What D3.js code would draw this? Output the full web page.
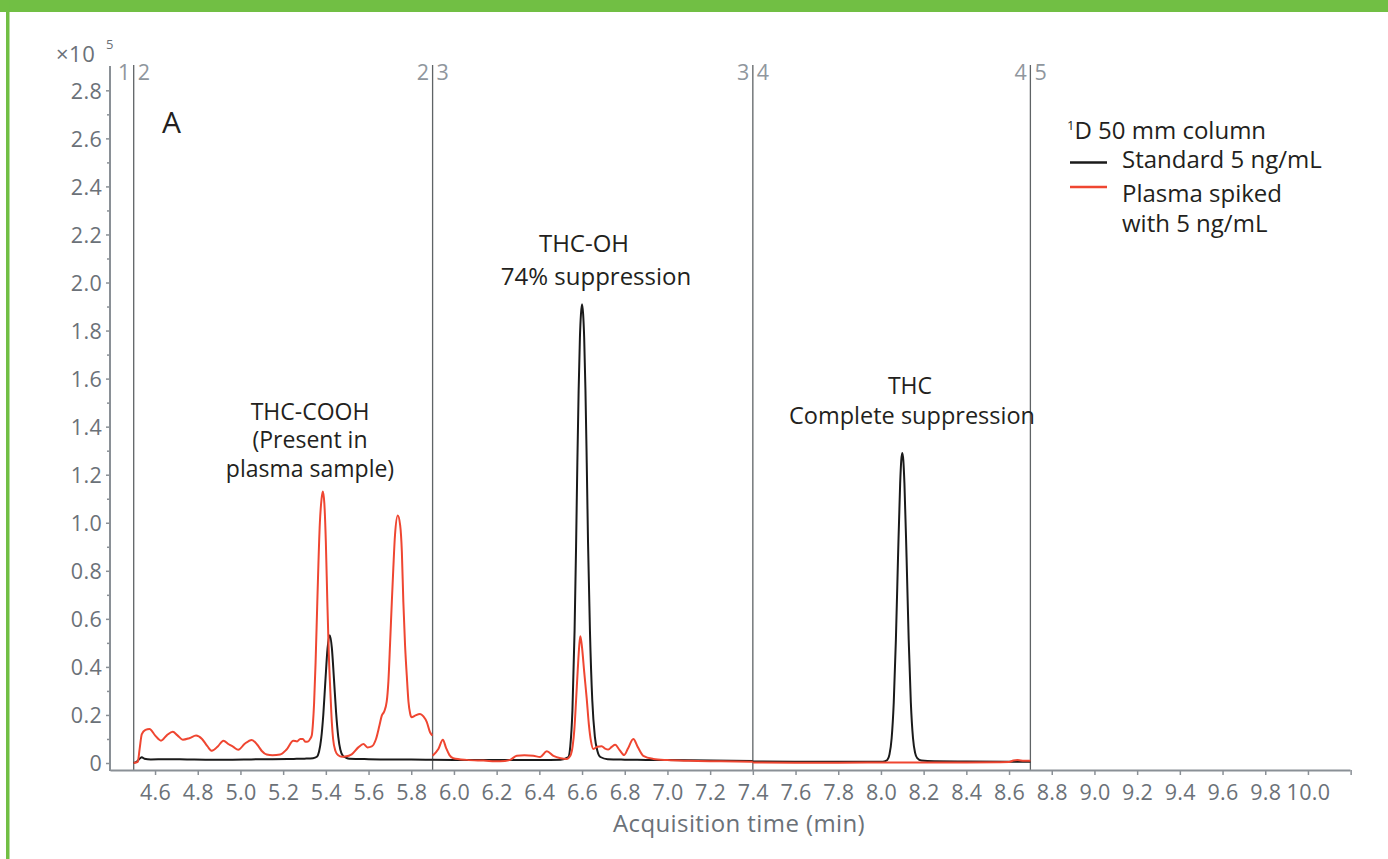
<!DOCTYPE html>
<html><head><meta charset="utf-8">
<script src="https://cdn.jsdelivr.net/npm/d3@7"></script>
<style>
html,body{margin:0;padding:0;background:#fff;}
svg{display:block;}
</style></head><body>
<svg id="chart" width="1388" height="859"></svg>
<script>
// ---------- data ----------
const segmentBounds = [4.5, 5.9, 7.4, 8.7];
const segmentLabels = [["1","2"],["2","3"],["3","4"],["4","5"]];

const xTickValues = [4.6,4.8,5.0,5.2,5.4,5.6,5.8,6.0,6.2,6.4,6.6,6.8,7.0,7.2,7.4,7.6,7.8,8.0,8.2,8.4,8.6,8.8,9.0,9.2,9.4,9.6,9.8,10.0,10.2];
const xTickLabels = ["4.6","4.8","5.0","5.2","5.4","5.6","5.8","6.0","6.2","6.4","6.6","6.8","7.0","7.2","7.4","7.6","7.8","8.0","8.2","8.4","8.6","8.8","9.0","9.2","9.4","9.6","9.8","10.0",""];
const yTickValues = [0,0.2,0.4,0.6,0.8,1.0,1.2,1.4,1.6,1.8,2.0,2.2,2.4,2.6,2.8];
const yTickLabels = ["0","0.2","0.4","0.6","0.8","1.0","1.2","1.4","1.6","1.8","2.0","2.2","2.4","2.6","2.8"];
const yMinorValues = [0.1,0.3,0.5,0.7,0.9,1.1,1.3,1.5,1.7,1.9,2.1,2.3,2.5,2.7];

// Standard 5 ng/mL (black), [time (min), counts x10^5]
const standardSeg2 = [[4.500,0.000],[4.515,0.006],[4.530,0.020],[4.538,0.024],[4.550,0.018],[4.580,0.015],[4.650,0.016],[4.750,0.015],[4.850,0.014],[4.950,0.014],[5.050,0.015],[5.150,0.016],[5.250,0.017],[5.300,0.018],[5.340,0.020],[5.358,0.026],[5.368,0.047],[5.378,0.100],[5.388,0.200],[5.398,0.344],[5.408,0.477],[5.418,0.532],[5.428,0.480],[5.438,0.350],[5.448,0.210],[5.458,0.110],[5.468,0.055],[5.480,0.030],[5.495,0.022],[5.510,0.018],[5.600,0.016],[5.700,0.015],[5.800,0.015],[5.900,0.014]];
const standardSeg3 = [[5.900,0.014],[6.000,0.013],[6.100,0.012],[6.200,0.012],[6.300,0.013],[6.400,0.013],[6.500,0.014],[6.536,0.025],[6.545,0.070],[6.555,0.220],[6.565,0.550],[6.572,0.900],[6.578,1.250],[6.584,1.550],[6.590,1.770],[6.595,1.870],[6.600,1.910],[6.605,1.870],[6.610,1.770],[6.616,1.550],[6.622,1.250],[6.628,0.920],[6.637,0.550],[6.648,0.260],[6.660,0.110],[6.672,0.050],[6.686,0.025],[6.720,0.016],[6.800,0.014],[6.900,0.013],[7.000,0.012],[7.200,0.010],[7.400,0.008]];
const standardSeg4 = [[7.400,0.006],[7.600,0.005],[7.800,0.005],[8.000,0.005],[8.020,0.008],[8.030,0.013],[8.040,0.036],[8.050,0.102],[8.060,0.252],[8.070,0.513],[8.080,0.856],[8.090,1.164],[8.095,1.258],[8.100,1.290],[8.105,1.258],[8.110,1.164],[8.120,0.856],[8.130,0.513],[8.140,0.252],[8.150,0.105],[8.160,0.042],[8.170,0.020],[8.190,0.010],[8.250,0.007],[8.400,0.006],[8.600,0.005],[8.700,0.005]];

// Plasma spiked with 5 ng/mL (red)
const plasmaSeg2 = [[4.500,0.000],[4.519,0.005],[4.528,0.060],[4.538,0.120],[4.555,0.138],[4.574,0.142],[4.600,0.115],[4.628,0.093],[4.655,0.115],[4.683,0.130],[4.705,0.115],[4.730,0.097],[4.760,0.103],[4.792,0.114],[4.820,0.100],[4.845,0.070],[4.866,0.051],[4.895,0.070],[4.920,0.093],[4.945,0.078],[4.965,0.068],[4.990,0.055],[5.020,0.080],[5.053,0.096],[5.080,0.075],[5.100,0.050],[5.123,0.035],[5.150,0.032],[5.186,0.035],[5.215,0.055],[5.248,0.093],[5.265,0.090],[5.280,0.100],[5.292,0.100],[5.305,0.088],[5.318,0.090],[5.326,0.100],[5.334,0.114],[5.340,0.170],[5.345,0.250],[5.352,0.420],[5.360,0.670],[5.372,1.000],[5.380,1.100],[5.386,1.130],[5.393,1.080],[5.400,0.920],[5.407,0.670],[5.414,0.450],[5.421,0.300],[5.428,0.170],[5.434,0.100],[5.445,0.050],[5.458,0.032],[5.475,0.026],[5.490,0.027],[5.521,0.036],[5.552,0.065],[5.576,0.079],[5.595,0.065],[5.615,0.069],[5.635,0.100],[5.651,0.156],[5.662,0.197],[5.673,0.214],[5.685,0.255],[5.693,0.340],[5.701,0.500],[5.709,0.670],[5.716,0.810],[5.724,0.950],[5.737,1.030],[5.748,0.990],[5.756,0.880],[5.763,0.670],[5.771,0.490],[5.779,0.365],[5.787,0.255],[5.795,0.205],[5.802,0.190],[5.818,0.197],[5.841,0.204],[5.857,0.194],[5.873,0.170],[5.888,0.128],[5.899,0.114]];
const plasmaSeg3 = [[5.900,0.030],[5.927,0.058],[5.948,0.097],[5.963,0.063],[5.979,0.033],[5.997,0.020],[6.060,0.013],[6.138,0.010],[6.216,0.007],[6.263,0.013],[6.294,0.030],[6.330,0.032],[6.372,0.030],[6.404,0.025],[6.435,0.049],[6.466,0.030],[6.500,0.020],[6.528,0.017],[6.545,0.030],[6.556,0.070],[6.564,0.140],[6.572,0.260],[6.580,0.390],[6.587,0.490],[6.592,0.528],[6.600,0.480],[6.610,0.380],[6.622,0.267],[6.632,0.160],[6.642,0.090],[6.653,0.058],[6.672,0.068],[6.692,0.070],[6.708,0.060],[6.723,0.056],[6.740,0.068],[6.755,0.076],[6.775,0.055],[6.797,0.033],[6.815,0.060],[6.840,0.100],[6.862,0.065],[6.887,0.030],[6.934,0.017],[7.000,0.012],[7.100,0.009],[7.250,0.007],[7.400,0.005]];
const plasmaSeg4 = [[7.400,0.002],[7.600,0.001],[7.800,0.001],[8.000,0.002],[8.200,0.002],[8.400,0.002],[8.550,0.003],[8.600,0.004],[8.620,0.010],[8.640,0.012],[8.670,0.009],[8.700,0.009]];

const standardSegments = [standardSeg2, standardSeg3, standardSeg4];
const plasmaSegments = [plasmaSeg2, plasmaSeg3, plasmaSeg4];

const legendTitle = "D 50 mm column";
const legendLabels = [["Standard 5 ng/mL"], ["Plasma spiked", "with 5 ng/mL"]];
const seriesColors = ["#1a1a1a", "#ef4631"];

// ---------- drawing ----------
const svg = d3.select("#chart");
svg.append("rect").attr("width",1388).attr("height",859).attr("fill","#fff");
svg.append("rect").attr("x",0).attr("y",0).attr("width",1388).attr("height",12).attr("fill","#71bf44");
svg.append("rect").attr("x",6).attr("y",0).attr("width",3.5).attr("height",859).attr("fill","#71bf44");

const x = d3.scaleLinear().domain([4.389, 10.197]).range([110, 1350]);
const y = d3.scaleLinear().domain([0, 2.9]).range([763, 66.3]);

const axisGray = "#8a9096";
const labelGray = "#6b7178";
const tickFont = "'Open Sans', 'DejaVu Sans', sans-serif";

// segment separators
segmentBounds.forEach((b, i) => {
  svg.append("line").attr("x1", x(b)).attr("x2", x(b)).attr("y1", 65).attr("y2", 770)
    .attr("stroke", "#5f6366").attr("stroke-width", 1.3);
  svg.append("text").attr("x", x(b) - 3.5).attr("y", 80).attr("text-anchor", "end")
    .attr("fill", "#8f969d").style("font-family", tickFont).style("font-size", "21.5px")
    .text(segmentLabels[i][0]);
  svg.append("text").attr("x", x(b) + 4).attr("y", 80).attr("text-anchor", "start")
    .attr("fill", "#8f969d").style("font-family", tickFont).style("font-size", "21.5px")
    .text(segmentLabels[i][1]);
});

// x axis
const gx = svg.append("g").attr("transform", "translate(0,770)")
  .call(d3.axisBottom(x).tickValues(xTickValues).tickFormat((d, i) => xTickLabels[i])
    .tickSize(5).tickSizeOuter(0).tickPadding(10));
gx.select(".domain").attr("stroke", axisGray).attr("stroke-width", 2);
gx.selectAll(".tick line").attr("stroke", axisGray).attr("stroke-width", 1.5);
gx.selectAll("text").attr("fill", labelGray).style("font-family", tickFont)
  .style("font-size", "21.5px").style("letter-spacing", "0.3px");

// y axis
const gy = svg.append("g").attr("transform", "translate(110,0)")
  .call(d3.axisLeft(y).tickValues(yTickValues).tickFormat((d, i) => yTickLabels[i])
    .tickSize(4).tickPadding(4));
gy.select(".domain").remove();
gy.selectAll(".tick line").attr("stroke", axisGray).attr("stroke-width", 1.5);
gy.selectAll("text").attr("fill", labelGray).style("font-family", tickFont)
  .style("font-size", "21.5px").style("letter-spacing", "0.3px").attr("dy", "0.36em");
const gyMinor = svg.append("g").attr("transform", "translate(110,0)")
  .call(d3.axisLeft(y).tickValues(yMinorValues).tickFormat("").tickSize(3));
gyMinor.select(".domain").remove();
gyMinor.selectAll(".tick line").attr("stroke", axisGray).attr("stroke-width", 1.5);
svg.append("line").attr("x1", 110).attr("x2", 110).attr("y1", 66).attr("y2", 771)
  .attr("stroke", axisGray).attr("stroke-width", 2);

// x10^5
svg.append("text").attr("x", 56).attr("y", 62).attr("fill", labelGray)
  .style("font-family", tickFont).style("font-size", "22px").style("letter-spacing", "0.5px").text("×10");
svg.append("text").attr("x", 106).attr("y", 49).attr("fill", labelGray)
  .style("font-family", tickFont).style("font-size", "13px").text("5");

// x title
svg.append("text").attr("x", 739).attr("y", 832).attr("text-anchor", "middle").attr("fill", labelGray)
  .style("font-family", tickFont).style("font-size", "24px").style("letter-spacing", "0.4px")
  .text("Acquisition time (min)");

// traces
const line = d3.line().x(d => x(d[0])).y(d => y(d[1])).curve(d3.curveMonotoneX);
standardSegments.forEach(seg => {
  svg.append("path").datum(seg).attr("d", line).attr("fill", "none")
    .attr("stroke", seriesColors[0]).attr("stroke-width", 2).attr("stroke-linejoin", "round");
});
plasmaSegments.forEach(seg => {
  svg.append("path").datum(seg).attr("d", line).attr("fill", "none")
    .attr("stroke", seriesColors[1]).attr("stroke-width", 2).attr("stroke-linejoin", "round");
});

// annotations
const annoFont = "'Open Sans', sans-serif";
function label(txt, xx, yy, size, anchor) {
  return svg.append("text").attr("x", xx).attr("y", yy).attr("text-anchor", anchor || "middle")
    .attr("fill", "#231f20").style("font-family", annoFont).style("font-size", size + "px").text(txt);
}
label("A", 162, 133, 30, "start");
label("THC-COOH", 310, 419.5, 23);
label("(Present in", 310, 448.3, 23);
label("plasma sample)", 310, 477.1, 23);
label("THC-OH", 584, 252, 24);
label("74% suppression", 596, 285, 24);
label("THC", 910, 394, 23);
label("Complete suppression", 912, 423.5, 23.5);

// legend
const lt = svg.append("text").attr("x", 1067).attr("y", 139).attr("fill", "#231f20")
  .style("font-family", annoFont).style("font-size", "24px");
lt.append("tspan").style("font-size", "13px").attr("dy", -9).text("1");
lt.append("tspan").attr("dy", 9).text(legendTitle);
svg.append("line").attr("x1", 1070).attr("x2", 1107).attr("y1", 162.5).attr("y2", 162.5)
  .attr("stroke", seriesColors[0]).attr("stroke-width", 2.5);
label(legendLabels[0][0], 1122, 168, 24, "start");
svg.append("line").attr("x1", 1070).attr("x2", 1107).attr("y1", 187).attr("y2", 187)
  .attr("stroke", seriesColors[1]).attr("stroke-width", 2.5);
label(legendLabels[1][0], 1122, 201.5, 24, "start");
label(legendLabels[1][1], 1122, 231.5, 24, "start");
</script>
</body></html>
